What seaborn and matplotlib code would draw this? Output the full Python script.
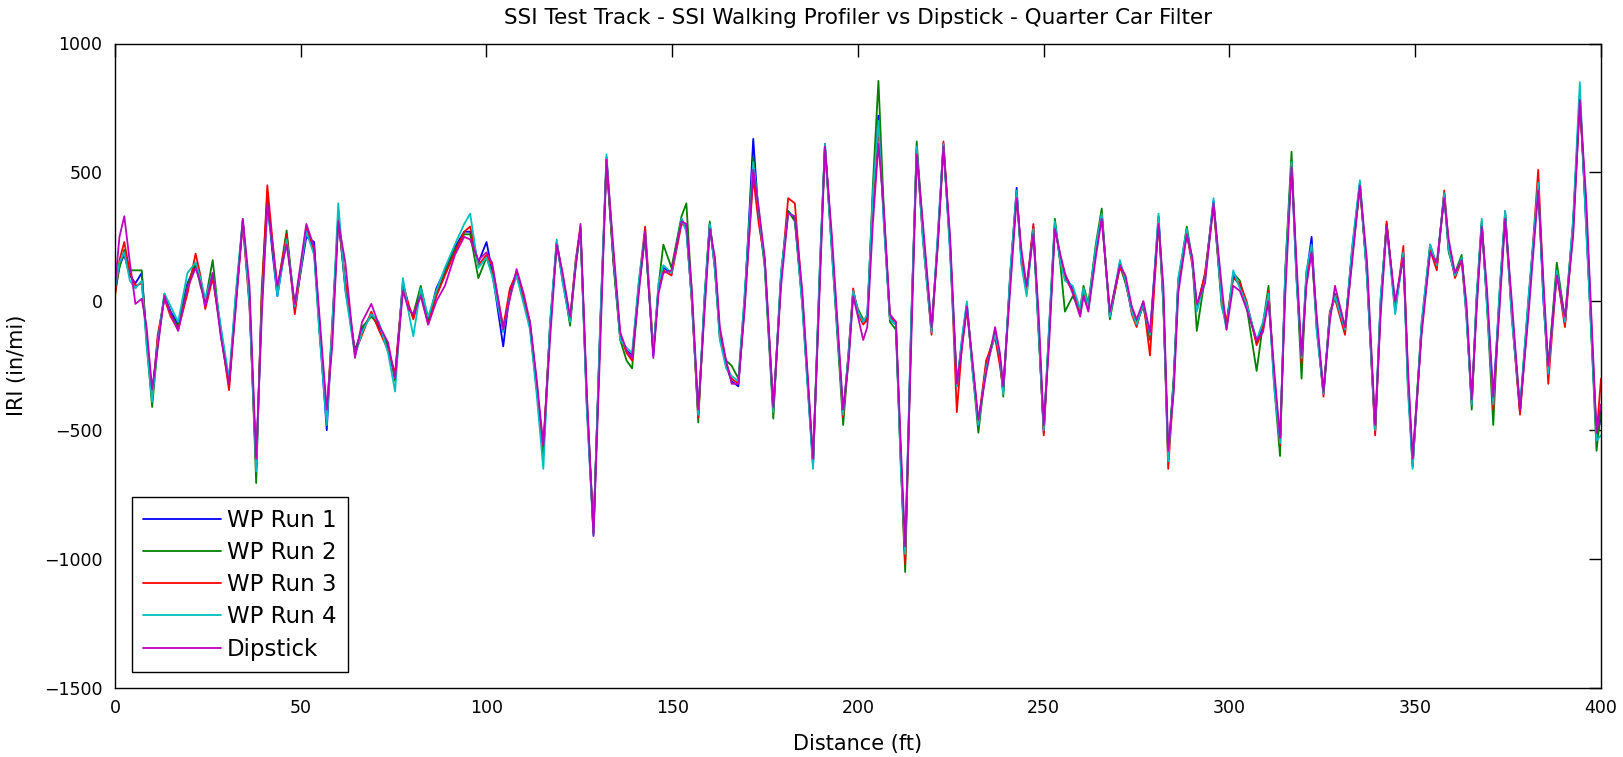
import numpy as np
import pandas as pd
import matplotlib
matplotlib.use("Agg")
import matplotlib.pyplot as plt
import seaborn as sns

# ---------------- data ----------------
DIST = [0.0, 1.2, 2.5, 4.0, 5.5, 7.2, 8.5, 10.0, 11.5, 13.3,
        15.0, 17.0, 19.5, 21.7, 23.0, 24.3, 26.3, 28.5, 30.7, 32.5,
        34.4, 36.2, 38.0, 39.5, 41.0, 42.3, 43.7, 46.2, 48.4, 51.5,
        53.6, 55.0, 57.0, 58.5, 60.1, 62.0, 64.6, 66.5, 69.0, 71.0,
        73.5, 75.4, 77.5, 79.0, 80.3, 82.3, 84.3, 86.5, 88.8, 91.5,
        94.0, 95.6, 97.8, 100.0, 101.5, 104.5, 106.3, 108.1, 110.0, 111.7,
        113.5, 115.3, 117.1, 118.9, 120.5, 122.5, 124.0, 125.3, 127.0, 128.8,
        130.6, 132.3, 134.2, 136.0, 137.7, 139.2, 141.0, 142.7, 144.9, 146.3,
        147.6, 149.8, 152.5, 153.8, 155.3, 157.0, 158.7, 160.1, 161.5, 162.8,
        164.5, 166.0, 167.8, 169.5, 171.8, 173.3, 174.9, 177.2, 179.3, 181.2,
        183.0, 185.0, 187.9, 189.7, 191.1, 193.0, 196.0, 197.5, 198.7, 200.0,
        201.4, 202.5, 204.0, 205.5, 207.0, 208.6, 210.2, 211.5, 212.7, 214.3,
        215.8, 217.5, 219.8, 221.5, 223.0, 224.8, 226.6, 228.0, 229.3, 230.8,
        232.4, 234.5, 236.9, 238.2, 239.1, 241.0, 242.7, 244.0, 245.4, 247.2,
        248.6, 250.0, 251.5, 253.0, 254.5, 255.7, 257.8, 259.8, 260.7, 262.0,
        264.0, 265.6, 267.8, 270.5, 272.0, 273.7, 275.0, 276.8, 278.6, 280.9,
        282.2, 283.5, 285.0, 286.2, 288.5, 290.0, 291.2, 293.4, 295.7, 297.9,
        299.2, 301.0, 302.8, 304.6, 307.3, 309.0, 310.5, 312.0, 313.6, 315.0,
        316.7, 318.0, 319.4, 320.7, 322.1, 323.5, 325.3, 327.0, 328.4, 331.1,
        333.0, 335.1, 337.0, 339.2, 340.7, 342.3, 344.6, 346.8, 348.0, 349.3,
        351.7, 354.0, 355.8, 357.8, 359.0, 360.7, 362.5, 363.8, 365.2, 366.5,
        367.9, 369.3, 371.0, 372.6, 374.2, 376.0, 378.2, 380.5, 383.1, 384.5,
        385.8, 388.1, 390.3, 392.5, 394.3, 396.0, 398.8, 400.0]

WP_RUN_1 = [40, 140, 180, 100, 70, 110, -140, -360, -150, 20,
            -40, -90, 70, 140, 80, -10, 100, -110, -320, 0,
            310, 0, -640, 0, 400, 200, 20, 250, -30, 250,
            230, -100, -500, -100, 330, 50, -190, -110, -50, -100,
            -180, -290, 70, -20, -60, 40, -80, 50, 120, 210,
            270, 270, 150, 230, 120, -175, 40, 110, 10, -90,
            -330, -580, -100, 230, 80, -80, 150, 280, -400, -900,
            -100, 550, 150, -140, -190, -210, 60, 260, -210, 50,
            130, 110, 320, 280, 0, -440, 0, 300, 130, -130,
            -250, -310, -330, 0, 630, 320, 150, -430, 100, 350,
            320, 0, -640, 100, 610, 200, -440, -200, 40, -40,
            -80, -60, 400, 720, 300, -70, -90, -600, -990, -100,
            590, 250, -120, 250, 610, 200, -330, -150, -10, -250,
            -480, -250, -130, -230, -350, 100, 440, 150, 40, 290,
            -100, -510, -100, 300, 150, 100, 50, -40, 40, -20,
            200, 340, -60, 150, 80, -40, -90, -10, -140, 330,
            0, -600, -300, 80, 270, 150, -20, 100, 390, 0,
            -100, 100, 60, -10, -160, -100, 20, -300, -550, 100,
            540, 100, -220, 100, 250, -100, -360, -50, 20, -110,
            200, 460, 100, -510, 0, 300, -30, 190, -300, -640,
            -100, 210, 130, 420, 200, 100, 170, -50, -400, 0,
            300, 0, -380, 0, 340, -50, -430, 0, 450, 0,
            -270, 120, -90, 300, 800, 300, -530, -450]

WP_RUN_2 = [30, 130, 200, 120, 120, 120, -160, -410, -170, 30,
            -50, -100, 60, 150, 60, 0, 160, -130, -330, 20,
            310, 20, -705, 50, 410, 220, 40, 275, -30, 280,
            200, -110, -430, -120, 320, 60, -200, -100, -60, -90,
            -170, -310, 60, -30, -50, 60, -70, 30, 110, 200,
            260, 260, 90, 170, 110, -110, 30, 100, 0, -80,
            -320, -600, -90, 220, 90, -95, 140, 270, -380, -880,
            -120, 540, 140, -150, -230, -260, 50, 250, -200, 60,
            220, 130, 330, 380, 20, -470, 20, 310, 120, -140,
            -230, -250, -300, 20, 560, 330, 130, -455, 110, 350,
            310, -10, -620, 120, 600, 190, -480, -210, 30, -30,
            -70, -80, 450, 855, 340, -80, -110, -620, -1050, -120,
            620, 270, -110, 240, 600, 210, -320, -160, -20, -260,
            -510, -240, -120, -220, -370, 110, 420, 160, 30, 280,
            -120, -500, -90, 320, 140, -40, 20, -30, 60, -10,
            220, 360, -70, 140, 70, -30, -80, -20, -150, 320,
            -20, -610, -290, 70, 290, 160, -115, 90, 380, -20,
            -90, 110, 80, -20, -270, -90, 60, -320, -600, 120,
            580, 120, -300, 110, 200, -110, -350, -60, 30, -100,
            190, 440, 120, -500, 10, 300, -20, 180, -320, -620,
            -90, 220, 140, 410, 190, 110, 180, -40, -420, 10,
            310, -10, -480, 10, 350, -40, -420, 10, 440, 30,
            -260, 150, -70, 310, 790, 320, -580, -420]

WP_RUN_3 = [20, 160, 230, 110, 60, 70, -130, -380, -130, 10,
            -60, -110, 30, 185, 100, -30, 90, -120, -345, -10,
            300, -20, -650, 20, 450, 250, 50, 260, -50, 290,
            190, -80, -450, -80, 320, 80, -200, -130, -40, -110,
            -190, -280, 70, -10, -70, 30, -90, 20, 100, 190,
            270, 290, 140, 180, 140, -100, 50, 110, 20, -100,
            -340, -560, -110, 230, 100, -70, 160, 290, -390, -900,
            -110, 560, 160, -130, -200, -230, 70, 290, -190, 40,
            120, 100, 300, 290, -10, -450, -10, 290, 140, -120,
            -240, -300, -320, -10, 480, 300, 160, -420, 90, 400,
            380, 20, -630, 90, 600, 220, -450, -190, 50, -50,
            -90, -70, 380, 680, 320, -60, -80, -610, -1020, -110,
            590, 240, -130, 230, 620, 220, -430, -170, -30, -240,
            -470, -230, -140, -250, -340, 90, 410, 170, 50, 300,
            -90, -520, -110, 290, 170, 90, 40, -50, 30, -30,
            190, 330, -50, 130, 90, -50, -100, 0, -210, 310,
            10, -650, -320, 60, 260, 140, -30, 110, 370, 10,
            -80, 90, 70, 0, -170, -110, 40, -290, -560, 90,
            530, 130, -240, 90, 210, -90, -370, -40, 10, -130,
            170, 450, 110, -520, -20, 310, -40, 215, -280, -640,
            -110, 200, 120, 430, 220, 90, 160, -60, -390, -10,
            300, 10, -420, -20, 330, -60, -440, -20, 510, 50,
            -320, 110, -100, 280, 780, 350, -520, -300]

WP_RUN_4 = [50, 150, 190, 80, 50, 80, -170, -390, -160, 30,
            -20, -80, 110, 150, 90, 10, 110, -100, -300, 30,
            320, -10, -660, -20, 350, 230, 20, 240, -20, 270,
            180, -120, -480, -90, 380, 40, -210, -120, -50, -80,
            -200, -350, 90, -40, -135, 50, -60, 40, 130, 220,
            300, 340, 130, 170, 100, -120, 20, 100, -10, -110,
            -360, -650, -80, 240, 70, -80, 150, 280, -420, -910,
            -80, 570, 170, -150, -180, -200, 80, 270, -200, 70,
            140, 110, 320, 270, 0, -440, 20, 300, 120, -150,
            -260, -290, -310, 30, 540, 350, 140, -430, 120, 340,
            330, -20, -650, 130, 610, 180, -440, -190, 40, -40,
            -80, -50, 420, 700, 290, -70, -90, -640, -980, -80,
            600, 230, -120, 270, 610, 180, -330, -140, 0, -270,
            -480, -260, -130, -210, -360, 120, 430, 140, 20, 280,
            -110, -500, -80, 310, 150, 80, 60, -30, 50, -20,
            210, 340, -60, 160, 80, -40, -90, -10, -130, 340,
            -10, -620, -310, 90, 280, 150, -40, 80, 400, -10,
            -110, 120, 50, -10, -150, -80, 30, -330, -550, 110,
            540, 90, -220, 120, 220, -120, -360, -50, 20, -110,
            210, 470, 90, -500, 20, 290, -50, 190, -340, -650,
            -80, 220, 140, 420, 200, 100, 170, -70, -400, 20,
            320, -20, -400, 20, 350, -70, -410, 20, 460, 10,
            -280, 120, -80, 320, 850, 280, -540, -520]

DIPSTICK = [60, 250, 330, 150, -10, 10, -100, -340, -180, 20,
            -50, -115, 50, 130, 70, -20, 110, -140, -320, -30,
            320, 60, -610, -60, 380, 230, 60, 220, -10, 300,
            210, -50, -420, -170, 310, 150, -220, -80, -10, -90,
            -160, -300, 40, -30, -50, 20, -90, 0, 60, 180,
            250, 240, 160, 190, 150, -110, 10, 125, 30, -80,
            -300, -560, -150, 220, 110, -60, 130, 300, -350, -910,
            -180, 550, 200, -120, -190, -220, 30, 270, -220, 30,
            110, 120, 310, 300, 40, -420, -40, 280, 170, -100,
            -230, -320, -320, -30, 510, 360, 170, -410, 60, 340,
            330, 40, -610, 50, 600, 250, -420, -230, 20, -60,
            -150, -100, 300, 610, 350, -50, -80, -550, -950, -180,
            570, 300, -100, 220, 600, 250, -320, -180, -20, -230,
            -460, -280, -100, -200, -330, 50, 400, 200, 60, 260,
            -40, -480, -150, 280, 180, 110, 30, -60, 20, -40,
            170, 320, -40, 140, 100, -20, -70, 0, -120, 300,
            60, -580, -350, 30, 260, 170, -10, 70, 380, 60,
            -110, 60, 40, -30, -150, -120, 0, -260, -530, 20,
            520, 160, -210, 60, 190, -60, -350, -80, 60, -100,
            150, 450, 160, -480, -50, 290, 0, 170, -250, -610,
            -130, 190, 150, 400, 240, 110, 160, -10, -380, -40,
            290, 50, -370, -50, 320, 0, -420, -50, 430, 80,
            -250, 100, -60, 250, 780, 400, -510, -400]

SERIES_NAMES = ["WP Run 1", "WP Run 2", "WP Run 3", "WP Run 4", "Dipstick"]
SERIES_VALUES = [WP_RUN_1, WP_RUN_2, WP_RUN_3, WP_RUN_4, DIPSTICK]
X_TICKS = [0, 50, 100, 150, 200, 250, 300, 350, 400]
Y_TICKS = [-1500, -1000, -500, 0, 500, 1000]

# ---------------- figure ----------------
sns.set_theme(style="white")
plt.rcParams["font.family"] = ["DejaVu Sans"]
plt.rcParams["text.color"] = "black"
plt.rcParams["axes.labelcolor"] = "black"
plt.rcParams["xtick.color"] = "black"
plt.rcParams["ytick.color"] = "black"

W, H = 1624, 757
fig = plt.figure(figsize=(W / 100, H / 100), dpi=100)
ax = fig.add_axes([115 / W, 1 - 688 / H, 1486 / W, 644.5 / H])

frames = [pd.DataFrame({"Distance": DIST, "IRI": vals, "Series": name})
          for name, vals in zip(SERIES_NAMES, SERIES_VALUES)]
df = pd.concat(frames, ignore_index=True)

palette = {"WP Run 1": "#0000ff", "WP Run 2": "#008000", "WP Run 3": "#ff0000",
           "WP Run 4": "#00bfbf", "Dipstick": "#bf00bf"}

sns.lineplot(data=df, x="Distance", y="IRI", hue="Series", hue_order=SERIES_NAMES,
             palette=palette, estimator=None, sort=False, linewidth=1.3, ax=ax)

ax.set_xlim(0, 400)
ax.set_ylim(-1500, 1000)
ax.set_xticks(X_TICKS)
ax.set_yticks(Y_TICKS)
ax.tick_params(direction="in", top=True, right=True, length=9, width=1.0,
               labelsize=12.5, colors="black")
ax.tick_params(axis="y", pad=9)
ax.tick_params(axis="x", pad=8)
for s in ax.spines.values():
    s.set_color("black")
    s.set_linewidth(1.0)

ax.set_xlabel("Distance (ft)", fontsize=15, labelpad=12, color="black")
ax.set_ylabel("IRI (in/mi)", fontsize=15, labelpad=12, color="black")
ax.set_title("SSI Test Track - SSI Walking Profiler vs Dipstick - Quarter Car Filter",
             fontsize=15.5, pad=14, color="black")

handles, labels = ax.get_legend_handles_labels()
leg = ax.legend(handles, labels, loc="lower left", bbox_to_anchor=(0.0114, 0.0248),
                borderaxespad=0, fontsize=16.5, handlelength=3.4, handletextpad=0.25,
                labelspacing=0.4, borderpad=0.5, frameon=True, fancybox=False,
                edgecolor="black", framealpha=1)
leg.get_frame().set_linewidth(1.0)
for t in leg.get_texts():
    t.set_color("black")

fig.savefig("out.png", dpi=100)
